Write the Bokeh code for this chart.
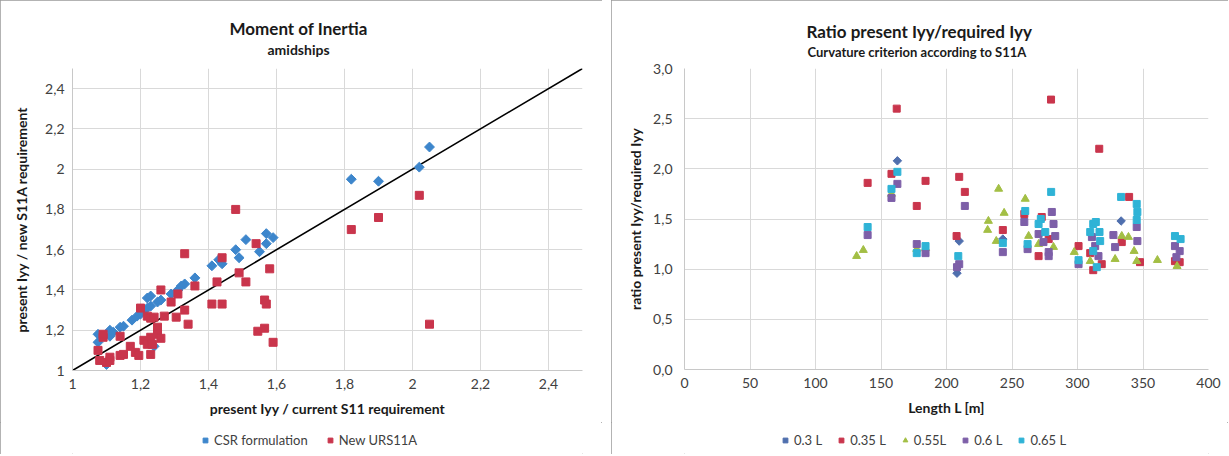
import math
from bokeh.plotting import figure
from bokeh.models import Range1d, FixedTicker, Legend, LegendItem, Title, Spacer
from bokeh.layouts import row, column
from bokeh.embed import file_html
from bokeh.resources import INLINE

# ---------------- data: left chart ----------------
csr_x = [1.075, 1.075, 1.09, 1.11, 1.11, 1.12, 1.14, 1.15, 1.175, 1.19, 1.20, 1.21, 1.22, 1.22, 1.23,
         1.23, 1.25, 1.26, 1.29, 1.31, 1.32, 1.33, 1.36, 1.41, 1.43, 1.44, 1.48, 1.49, 1.51, 1.55,
         1.57, 1.57, 1.59, 1.10, 1.24, 1.82, 1.90, 2.02, 2.05]
csr_y = [1.14, 1.18, 1.17, 1.20, 1.17, 1.19, 1.215, 1.22, 1.25, 1.27, 1.28, 1.30, 1.31, 1.36, 1.37,
         1.32, 1.34, 1.35, 1.38, 1.40, 1.42, 1.43, 1.46, 1.52, 1.55, 1.53, 1.60, 1.56, 1.65, 1.59,
         1.63, 1.68, 1.66, 1.03, 1.12, 1.95, 1.94, 2.01, 2.11]
urs_x = [1.075, 1.08, 1.09, 1.09, 1.10, 1.11, 1.11, 1.14, 1.14, 1.15, 1.17, 1.185, 1.195, 1.20,
         1.21, 1.22, 1.23, 1.23, 1.22, 1.23, 1.24, 1.25, 1.25, 1.26, 1.26, 1.27, 1.235, 1.29, 1.305,
         1.31, 1.33, 1.33, 1.34, 1.36, 1.41, 1.425, 1.44, 1.44, 1.48, 1.49, 1.51, 1.54, 1.545, 1.565,
         1.565, 1.57, 1.58, 1.59, 1.82, 1.90, 2.02, 2.05]
urs_y = [1.10, 1.05, 1.165, 1.18, 1.04, 1.05, 1.066, 1.17, 1.075, 1.08, 1.12, 1.09, 1.075, 1.31,
         1.15, 1.13, 1.08, 1.165, 1.27, 1.26, 1.265, 1.215, 1.18, 1.16, 1.40, 1.27, 1.13, 1.34, 1.265,
         1.38, 1.30, 1.58, 1.23, 1.42, 1.33, 1.44, 1.56, 1.33, 1.80, 1.485, 1.44, 1.63, 1.195, 1.21,
         1.35, 1.33, 1.505, 1.14, 1.70, 1.76, 1.87, 1.23]
diag_x = [1.0, 2.5]
diag_y = [1.0, 2.5]
left_ticks = [1.0, 1.2, 1.4, 1.6, 1.8, 2.0, 2.2, 2.4]
left_tick_labels = ["1", "1,2", "1,4", "1,6", "1,8", "2", "2,2", "2,4"]
left_series = ["CSR formulation", "New URS11A"]

# ---------------- data: right chart ----------------
l_03 = [162.5, 209.7, 208.0, 243.0, 333.3]
r_03 = [2.08, 1.28, 0.96, 1.30, 1.48]
l_035 = [139.8, 162.0, 158.0, 177.3, 184.0, 209.7, 214.0, 207.7, 243.0, 259.4, 272.7, 270.3, 278.0,
         279.8, 300.8, 309.7, 312.0, 318.5, 316.6, 333.8, 339.4, 347.7, 374.4, 378.0]
r_035 = [1.86, 2.60, 1.95, 1.63, 1.88, 1.92, 1.77, 1.33, 1.39, 1.55, 1.52, 1.13, 1.30,
         2.69, 1.23, 1.16, 0.99, 1.05, 2.20, 1.27, 1.72, 1.07, 1.08, 1.07]
l_055 = [131.4, 136.5, 158.0, 177.3, 184.0, 231.4, 232.0, 238.0, 239.8, 244.0, 260.1, 262.7, 270.3,
         281.7, 297.5, 309.7, 328.7, 333.8, 338.9, 343.2, 345.2, 361.0, 376.0]
r_055 = [1.13, 1.19, 1.75, 1.20, 1.21, 1.39, 1.48, 1.28, 1.80, 1.56, 1.70, 1.33, 1.25,
         1.22, 1.17, 1.08, 1.10, 1.33, 1.32, 1.18, 1.08, 1.09, 1.03]
l_06 = [139.8, 162.5, 158.0, 177.3, 184.0, 214.0, 209.7, 208.0, 243.0, 259.4, 261.9, 270.3, 274.0,
        278.0, 278.0, 280.4, 281.7, 283.0, 300.8, 311.0, 313.5, 316.0, 327.4, 328.7, 345.2, 345.7,
        374.4, 378.0, 375.5]
r_06 = [1.34, 1.85, 1.71, 1.25, 1.16, 1.63, 1.05, 1.02, 1.17, 1.47, 1.20, 1.35, 1.27,
        1.17, 1.13, 1.57, 1.45, 1.33, 1.05, 1.32, 1.23, 1.13, 1.34, 1.22, 1.42, 1.28,
        1.23, 1.18, 1.12]
l_065 = [139.8, 162.5, 158.0, 177.3, 184.0, 209.0, 243.0, 260.1, 261.9, 272.0, 270.3, 275.4, 279.9,
         300.8, 309.7, 312.0, 314.0, 316.8, 317.3, 312.0, 314.7, 333.3, 345.2, 345.7, 345.2, 374.4,
         378.7]
r_065 = [1.42, 1.97, 1.80, 1.16, 1.23, 1.13, 1.26, 1.58, 1.25, 1.50, 1.45, 1.37, 1.77,
         1.09, 1.37, 1.45, 1.47, 1.37, 1.28, 1.18, 1.02, 1.72, 1.65, 1.57, 1.49, 1.33,
         1.30]
right_series = ["0.3 L", "0.35 L", "0.55L", "0.6 L", "0.65 L"]
right_xticks = [0, 50, 100, 150, 200, 250, 300, 350, 400]
right_yticks = [0.0, 0.5, 1.0, 1.5, 2.0, 2.5, 3.0]
right_ytick_labels = ["0,0", "0,5", "1,0", "1,5", "2,0", "2,5", "3,0"]

FONT = "Lato"
GRID = "#d9d9d9"
TICKC = "#404040"
BORDER = {"outline": "1px solid #9a9a9a", "outline-offset": "-1px", "background": "white"}
DIAMOND = math.pi / 4

C_CSR, C_URS = "#3d86cc", "#c9354c"
C_03, C_035, C_055, C_06, C_065 = "#4f6fae", "#c9354c", "#a3bf45", "#7d5fa8", "#2fb3d6"


def style_axes(p):
    for ax in (p.xaxis[0], p.yaxis[0]):
        ax.major_label_text_font = FONT
        ax.major_label_text_font_size = "14px"
        ax.major_label_text_color = TICKC
        ax.axis_label_text_font = FONT
        ax.axis_label_text_font_size = "14px"
        ax.axis_label_text_font_style = "bold"
        ax.axis_label_text_color = "#1a1a1a"
        ax.major_tick_line_color = None
        ax.minor_tick_line_color = None
        ax.axis_line_color = "#c8c8c8"
        ax.major_tick_out = 0
        ax.major_tick_in = 0
    p.grid.grid_line_color = GRID
    p.outline_line_color = None
    p.background_fill_color = "white"
    p.border_fill_color = "white"


def add_titles(p, main, sub, sub_size, main_off, sub_off, main_so, sub_so, gap_so):
    # thin blank strip between the plot area and the subtitle
    p.add_layout(Title(text=" ", standoff=gap_so, text_font=FONT, text_font_size="1px"), "above")
    p.add_layout(Title(text=sub, align="left", offset=sub_off, standoff=sub_so,
                       vertical_align="top",
                       text_font=FONT, text_font_size=sub_size, text_font_style="bold",
                       text_color="#1a1a1a"), "above")
    p.add_layout(Title(text=main, align="left", offset=main_off, standoff=main_so,
                       text_font=FONT, text_font_size="17px", text_font_style="bold",
                       text_color="#1a1a1a"), "above")


def legend_fig(width, series, x0, spacing):
    # series: list of (name, xs, ys, marker, angle, colour, size)
    lf = figure(width=width, height=32, output_backend="svg", toolbar_location=None,
                x_range=Range1d(-2, -1), y_range=Range1d(-2, -1), min_border=0,
                x_axis_location=None, y_axis_location=None)
    lf.grid.visible = False
    lf.outline_line_color = None
    lf.background_fill_color = "white"
    lf.border_fill_color = "white"
    items = []
    for name, xs, ys, m, ang, c, s in series:
        r = lf.scatter(xs, ys, marker=m, angle=ang, size=s, fill_color=c, line_color=c)
        items.append(LegendItem(label=name, renderers=[r]))
    leg = Legend(items=items, location=(x0, 6), orientation="horizontal", padding=0, margin=0,
                 spacing=spacing, label_standoff=3, glyph_width=12, glyph_height=12,
                 label_height=16, label_text_font=FONT, label_text_font_size="13px",
                 label_text_color=TICKC, border_line_color=None, background_fill_alpha=0)
    lf.add_layout(leg, "center")
    return lf


# ---------------- left figure ----------------
p1 = figure(width=602, height=422, output_backend="svg", toolbar_location=None,
            x_range=Range1d(1.0, 2.5), y_range=Range1d(1.0, 2.5),
            min_border_left=72, min_border_right=20, min_border_top=68, min_border_bottom=52)
style_axes(p1)
p1.xaxis.ticker = FixedTicker(ticks=left_ticks)
p1.yaxis.ticker = FixedTicker(ticks=left_ticks)
p1.xaxis.major_label_overrides = {t: s for t, s in zip(left_ticks, left_tick_labels)}
p1.yaxis.major_label_overrides = {t: s for t, s in zip(left_ticks, left_tick_labels)}
p1.xaxis.axis_label = "present Iyy / current S11 requirement"
p1.yaxis.axis_label = "present Iyy / new S11A requirement"
p1.xaxis.major_label_standoff = 8
p1.yaxis.major_label_standoff = 8
p1.xaxis.axis_label_standoff = 8
p1.yaxis.axis_label_standoff = 12

p1.line(diag_x, diag_y, line_color="black", line_width=1.6)
p1.scatter(csr_x, csr_y, marker="square", angle=DIAMOND, size=7, fill_color=C_CSR, line_color=C_CSR)
p1.scatter(urs_x, urs_y, marker="square", size=8, fill_color=C_URS, line_color=C_URS)
add_titles(p1, "Moment of Inertia", "amidships", "14px", 157, 195, 0, 5, 3)

lf1 = legend_fig(602, [(left_series[0], csr_x, csr_y, "square", DIAMOND, C_CSR, 5),
                       (left_series[1], urs_x, urs_y, "square", 0, C_URS, 5)], 127, 16)

# ---------------- right figure ----------------
p2 = figure(width=617, height=422, output_backend="svg", toolbar_location=None,
            x_range=Range1d(0, 400), y_range=Range1d(0, 3.0),
            min_border_left=73, min_border_right=20, min_border_top=68, min_border_bottom=53)
style_axes(p2)
p2.xaxis.ticker = FixedTicker(ticks=right_xticks)
p2.yaxis.ticker = FixedTicker(ticks=right_yticks)
p2.yaxis.major_label_overrides = {t: s for t, s in zip(right_yticks, right_ytick_labels)}
p2.xaxis.axis_label = "Length L [m]"
p2.yaxis.axis_label = "ratio present Iyy/required Iyy"
p2.xaxis.major_label_standoff = 8
p2.yaxis.major_label_standoff = 12
p2.xaxis.axis_label_standoff = 8
p2.yaxis.axis_label_standoff = 6

p2.scatter(l_03, r_03, marker="square", angle=DIAMOND, size=6, fill_color=C_03, line_color=C_03)
p2.scatter(l_035, r_035, marker="square", size=7, fill_color=C_035, line_color=C_035)
p2.scatter(l_055, r_055, marker="triangle", size=8, fill_color=C_055, line_color=C_055)
p2.scatter(l_06, r_06, marker="square", size=7, fill_color=C_06, line_color=C_06)
p2.scatter(l_065, r_065, marker="square", size=7, fill_color=C_065, line_color=C_065)
add_titles(p2, "Ratio present Iyy/required Iyy", "Curvature criterion according to S11A", "13px",
           122, 123, 0, 4, 2)

lf2 = legend_fig(617, [(right_series[0], l_03, r_03, "square", DIAMOND, C_03, 4),
                       (right_series[1], l_035, r_035, "square", 0, C_035, 5),
                       (right_series[2], l_055, r_055, "triangle", 0, C_055, 6),
                       (right_series[3], l_06, r_06, "square", 0, C_06, 5),
                       (right_series[4], l_065, r_065, "square", 0, C_065, 5)], 95, 13)

left_col = column(p1, lf1, styles=BORDER)
right_col = column(p2, lf2, styles=BORDER)
layout = row(left_col, Spacer(width=9, height=454), right_col)
open("out.html", "w").write(file_html(layout, INLINE))
